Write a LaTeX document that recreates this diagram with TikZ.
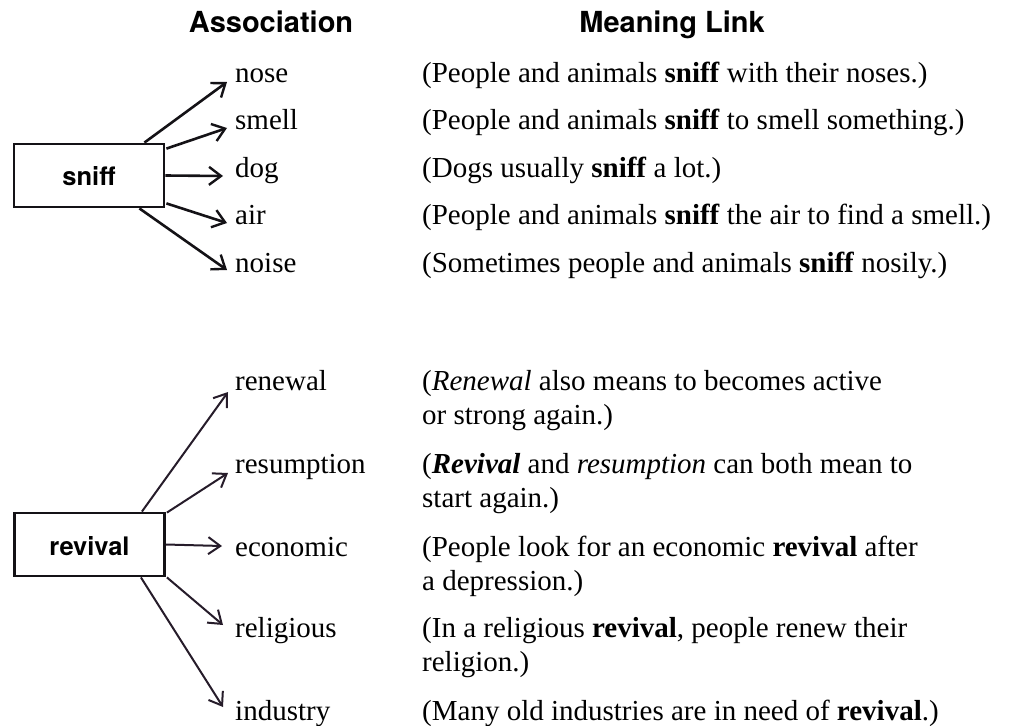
\documentclass[tikz,border=0pt]{standalone}
\usepackage{fontspec}
\setmainfont{Liberation Serif}
\setsansfont{TeX Gyre Heros}
\usetikzlibrary{arrows.meta,calc}
\definecolor{ink}{RGB}{20,18,22}
\definecolor{inkb}{RGB}{38,28,42}
\begin{document}
\begin{tikzpicture}[x=1pt,y=-1pt,
  hdr/.style={font=\sffamily\bfseries\fontsize{29}{34}\selectfont, anchor=base, inner sep=0},
  word/.style={font=\fontsize{29}{34}\selectfont, anchor=base west, inner sep=0},
  mean/.style={font=\fontsize{29}{34}\selectfont, anchor=base west, inner sep=0},
  keybox/.style={draw=ink, line width=2.8pt, minimum width=150pt, minimum height=63pt, inner sep=0, fill=white},
  keylbl/.style={font=\sffamily\bfseries\fontsize{25.5}{30}\selectfont, anchor=base, inner sep=0},
  arrA/.style={draw=ink, line width=2.6pt, -{Straight Barb[length=12pt,width=18pt,line width=2.4pt]}},
  arrB/.style={draw=inkb, line width=2pt, -{Straight Barb[length=12pt,width=17pt,line width=2pt]}}
]
\useasboundingbox (0,0) rectangle (1035,725);

% headers
\node[hdr] (h1) at (271,33) {Association};
\node[hdr] (h2) at (672,33) {Meaning Link};

% ---------------- sniff group
\node[keybox] (sniff) at (89,175.5) {};
\node[keylbl] (sniffl) at (89,185) {sniff};

\node[word] (w1) at (235,82) {nose};
\node[word] (w2) at (235,129) {smell};
\node[word] (w3) at (235,177) {dog};
\node[word] (w4) at (235,224) {air};
\node[word] (w5) at (235,272) {noise};

\node[mean] (m1) at (422,82) {(People and animals \textbf{sniff} with their noses.)};
\node[mean] (m2) at (422,129) {(People and animals \textbf{sniff} to smell something.)};
\node[mean] (m3) at (422,177) {(Dogs usually \textbf{sniff} a lot.)};
\node[mean] (m4) at (422,224) {(People and animals \textbf{sniff} the air to find a smell.)};
\node[mean] (m5) at (422,272) {(Sometimes people and animals \textbf{sniff} nosily.)};

\draw[arrA] ($(sniff.north east)+(-21,0)$) -- ($(w1.base west)+(-8,0)$);
\draw[arrA] ($(sniff.north east)+(1,6)$) -- ($(w2.base west)+(-8,-1)$);
\draw[arrA] (sniff.east) -- ($(w3.base west)+(-12,-1)$);
\draw[arrA] ($(sniff.south east)+(1,-5)$) -- ($(w4.base west)+(-8,-1)$);
\draw[arrA] ($(sniff.south east)+(-26,0)$) -- ($(w5.base west)+(-8,-2)$);

% ---------------- revival group
\node[keybox] (rev) at (89.5,544.5) {};
\node[keylbl] (revl) at (89.5,555) {revival};

\node[word] (v1) at (235,390) {renewal};
\node[word] (v2) at (235,473) {resumption};
\node[word] (v3) at (235,556) {economic};
\node[word] (v4) at (235,637) {religious};
\node[word] (v5) at (235,720) {industry};

\node[mean] (n1a) at (422,390) {(\textit{Renewal} also means to becomes active};
\node[mean] (n1b) at (422,424) {or strong again.)};
\node[mean] (n2a) at (422,473) {(\textbf{\textit{Revival}} and \textit{resumption} can both mean to};
\node[mean] (n2b) at (422,507) {start again.)};
\node[mean] (n3a) at (422,556) {(People look for an economic \textbf{revival} after};
\node[mean] (n3b) at (422,590) {a depression.)};
\node[mean] (n4a) at (422,637) {(In a religious \textbf{revival}, people renew their};
\node[mean] (n4b) at (422,671) {religion.)};
\node[mean] (n5a) at (422,720) {(Many old industries are in need of \textbf{revival}.)};

\draw[arrB] ($(rev.north east)+(-24,0)$) -- ($(v1.base west)+(-7,2)$);
\draw[arrB] ($(rev.north east)+(1,1)$) -- ($(v2.base west)+(-7,0)$);
\draw[arrB] (rev.east) -- ($(v3.base west)+(-13,-10)$);
\draw[arrB] ($(rev.south east)+(1,0)$) -- ($(v4.base west)+(-12,-12)$);
\draw[arrB] ($(rev.south east)+(-25,0)$) -- ($(v5.base west)+(-12,-13)$);
\end{tikzpicture}
\end{document}
